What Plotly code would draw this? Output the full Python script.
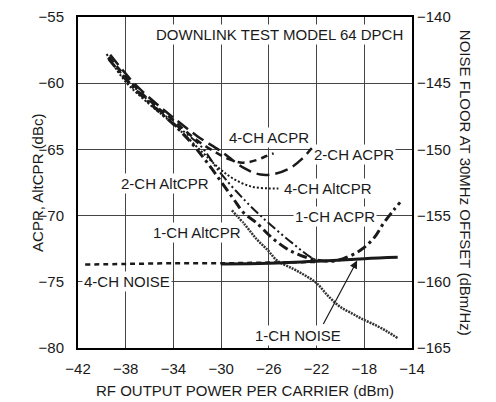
import plotly.graph_objects as go

# ---- data ----
x_4ch_acpr = [-39.4, -37.5, -35.5, -34.0, -32.2, -30.5, -29.3, -28.2, -27.0, -26.2, -25.6]
y_4ch_acpr = [-58.0, -60.0, -61.7, -62.8, -64.2, -65.2, -65.75, -66.0, -65.8, -65.5, -65.3]

x_2ch_acpr = [-39.3, -37.3, -35.5, -34.0, -32.0, -30.0, -28.1, -26.7, -25.5, -24.2, -23.2, -22.4]
y_2ch_acpr = [-57.85, -60.0, -61.5, -62.6, -64.0, -65.15, -66.4, -66.9, -66.85, -66.4, -65.7, -64.9]

x_4ch_alt = [-39.6, -38.0, -36.0, -34.0, -31.7, -30.2, -29.0, -27.5, -26.0, -25.2]
y_4ch_alt = [-57.8, -59.9, -61.6, -63.1, -65.1, -66.4, -67.2, -67.8, -67.95, -67.95]

x_2ch_alt = [-39.5, -37.5, -35.5, -34.0, -32.8, -31.7, -30.05, -27.96, -26.1, -24.0, -22.3, -21.5]
y_2ch_alt = [-58.1, -60.1, -61.8, -63.0, -63.9, -64.75, -66.8, -68.9, -70.5, -72.1, -73.25, -73.5]

x_1ch_acpr = [-39.4, -37.5, -35.5, -34.0, -32.5, -31.0, -29.0, -28.1, -27.1, -25.7, -24.5, -23.35,
              -22.0, -20.8, -19.75, -18.3, -17.2, -16.4, -15.55, -15.0]
y_1ch_acpr = [-58.2, -60.2, -61.9, -63.1, -64.5, -66.2, -68.7, -69.8, -70.5, -71.7, -72.5, -73.0,
              -73.35, -73.45, -73.25, -72.6, -71.7, -70.6, -69.6, -69.0]

x_1ch_alt = [-29.1, -28.0, -27.0, -26.1, -25.3, -24.0, -23.0, -22.0, -21.0, -20.0, -19.0, -18.2,
             -17.0, -16.0, -15.2]
y_1ch_alt = [-69.6, -70.7, -71.8, -72.6, -73.4, -74.0, -74.5, -75.1, -76.1, -76.9, -77.4, -77.8,
             -78.3, -78.8, -79.25]

x_4ch_noise = [-41.4, -38.0, -34.0, -30.0, -26.0, -22.0]
y_4ch_noise = [-158.7, -158.65, -158.6, -158.6, -158.55, -158.5]

x_1ch_noise = [-30.0, -26.0, -22.0, -18.0, -15.2]
y_1ch_noise = [-158.65, -158.6, -158.45, -158.25, -158.15]

x_ticks = [-42, -38, -34, -30, -26, -22, -18, -14]
y_ticks = [-80, -75, -70, -65, -60, -55]
y2_ticks = [-165, -160, -155, -150, -145, -140]

FONT = "Liberation Sans, Arial, sans-serif"
FS = 15
INK = "#1a1a1a"

fig = go.Figure()

def add(x, y, dash, width, color=INK, yaxis="y"):
    fig.add_trace(go.Scatter(x=x, y=y, mode="lines", yaxis=yaxis,
                             line=dict(color=color, width=width, dash=dash, shape="spline"),
                             hoverinfo="skip", showlegend=False))

add(x_4ch_noise, y_4ch_noise, "5px,4px", 2.5, yaxis="y2")
add(x_1ch_noise, y_1ch_noise, "solid", 3, yaxis="y2")
add(x_1ch_alt, y_1ch_alt, "2px,1px", 2.5, color="#333333")
add(x_4ch_acpr, y_4ch_acpr, "7px,5px", 2.5)
add(x_2ch_acpr, y_2ch_acpr, "13px,6px", 2.5)
add(x_4ch_alt, y_4ch_alt, "2px,2px", 2)
add(x_2ch_alt, y_2ch_alt, "10px,3px,2px,3px,2px,3px", 2)
add(x_1ch_acpr, y_1ch_acpr, "10px,4px,3px,4px", 3)

labels = [
    ("DOWNLINK TEST MODEL 64 DPCH", -25.1, -56.3),
    ("4-CH ACPR", -25.95, -64.08),
    ("2-CH ACPR", -18.86, -65.36),
    ("4-CH AltCPR", -21.04, -67.99),
    ("2-CH AltCPR", -34.71, -67.61),
    ("1-CH AltCPR", -32.02, -71.29),
    ("1-CH ACPR", -20.46, -70.09),
    ("4-CH NOISE", -37.89, -74.97),
    ("1-CH NOISE", -23.56, -79.02),
]
for t, x, y in labels:
    fig.add_annotation(text=t, x=x, y=y, xref="x", yref="y", showarrow=False,
                       bgcolor="white", borderpad=1,
                       font=dict(family=FONT, size=FS, color=INK))

fig.add_annotation(x=-18.6, y=-73.4, ax=-21.5, ay=-78.3, xref="x", yref="y",
                   axref="x", ayref="y", text="", showarrow=True,
                   arrowhead=2, arrowsize=1.3, arrowwidth=1.2, arrowcolor=INK)

fig.add_annotation(text="RF OUTPUT POWER PER CARRIER (dBm)", xref="paper", yref="paper",
                   x=0.5, y=-0.129, showarrow=False, yanchor="middle",
                   font=dict(family=FONT, size=FS, color=INK))
fig.add_annotation(text="ACPR, AltCPR (dBc)", xref="paper", yref="paper",
                   x=-0.153, y=0.5, showarrow=False, textangle=-90,
                   font=dict(family=FONT, size=FS, color=INK))
fig.add_annotation(text="NOISE FLOOR AT 30MHz OFFSET (dBm/Hz)", xref="paper", yref="paper",
                   x=1.192, y=0.5, showarrow=False, textangle=90,
                   font=dict(family=FONT, size=FS, color=INK))

axis_common = dict(showline=True, linecolor="black", linewidth=2, zeroline=False,
                   automargin=False, ticks="", ticklabeloverflow="allow",
                   tickfont=dict(family=FONT, size=FS, color=INK))

fig.update_layout(
    width=488, height=394,
    margin=dict(l=70, r=84, t=9, b=54, autoexpand=False),
    paper_bgcolor="white", plot_bgcolor="white",
    showlegend=False,
    xaxis=dict(range=[-42, -14], tickvals=x_ticks, showgrid=True, gridcolor="#444444",
               gridwidth=1, mirror=True, ticklabelstandoff=6, **axis_common),
    yaxis=dict(range=[-80, -55], tickvals=y_ticks, showgrid=True, gridcolor="#444444",
               gridwidth=1, ticklabelstandoff=9, **axis_common),
    yaxis2=dict(range=[-165, -140], tickvals=y2_ticks, overlaying="y", side="right",
                showgrid=False, ticklabelstandoff=0, **axis_common),
)

fig.write_html("out.html")
